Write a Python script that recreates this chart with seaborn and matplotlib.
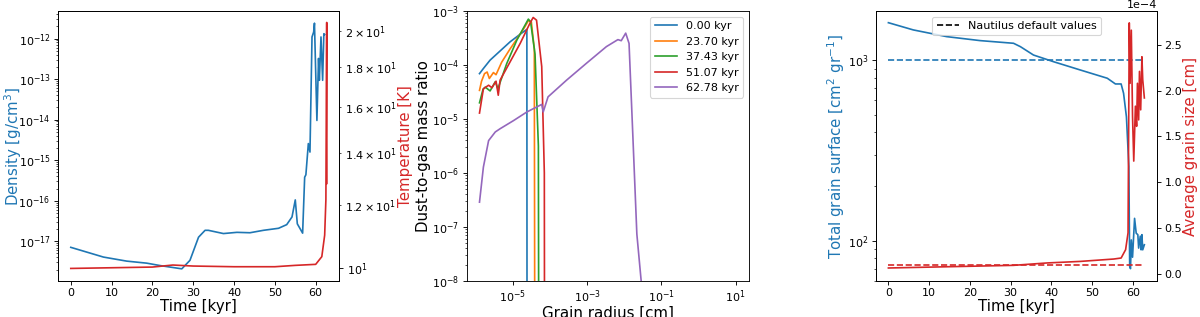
import numpy as np
import matplotlib
matplotlib.use("Agg")
import matplotlib.pyplot as plt
import seaborn as sns

plt.rcParams['font.family'] = ['DejaVu Sans']
plt.rcParams['xtick.major.pad'] = 3
plt.rcParams['ytick.major.pad'] = 3
plt.rcParams['ytick.minor.pad'] = 3
plt.rcParams['axes.labelpad'] = 1

BLUE = '#1f77b4'
RED = '#d62728'

# panel 1: density / temperature vs time
dens_time = [0.0, 8.0, 13.7, 18.6, 21.9, 27.2, 29.2, 31.3, 32.9, 33.7, 37.4, 40.7, 43.9,
             47.2, 50.9, 52.9, 54.2, 55.0, 55.5, 56.8, 57.3, 57.6, 58.2, 58.6, 59.1, 59.5,
             59.7, 60.3, 60.7, 60.9, 61.3, 61.7, 62.0, 62.2]
dens_log = [-17.15, -17.39, -17.49, -17.54, -17.60, -17.68, -17.47, -16.90, -16.73, -16.73,
            -16.81, -16.78, -16.79, -16.73, -16.68, -16.59, -16.40, -15.98, -16.57, -16.80,
            -15.42, -15.36, -14.59, -14.80, -11.96, -11.84, -11.62, -14.02, -12.49, -13.03,
            -11.96, -13.03, -11.88, -11.90]
temp_time = [0.0, 10.0, 20.0, 25.0, 30.0, 40.0, 50.0, 55.0, 60.0, 61.5, 62.2, 62.5, 62.7, 62.75]
temp_k = [9.98, 10.0, 10.02, 10.08, 10.05, 10.03, 10.03, 10.07, 10.1, 10.33, 11.0, 12.2, 20.5, 12.8]

# panel 2: dust-to-gas mass ratio vs grain radius (log10 values, None = empty bin)
snap_labels = ['0.00 kyr', '23.70 kyr', '37.43 kyr', '51.07 kyr', '62.78 kyr']
r_blue = [-5.895, -5.79, -5.61, -5.34, -5.07, -4.80, -4.62, -4.60, 1.0]
d_blue = [-4.16, -4.065, -3.91, -3.74, -3.57, -3.43, -3.34, None, None]
r_orange = [-5.895, -5.84, -5.76, -5.69, -5.63, -5.52, -5.45, -5.30, -5.07, -4.89, -4.68, -4.58,
            -4.50, -4.42, -4.36, 1.0]
d_orange = [-4.47, -4.30, -4.16, -4.13, -4.25, -4.14, -4.18, -3.95, -3.70, -3.52, -3.30, -3.18,
            -3.20, -3.70, None, None]
r_green = [-5.895, -5.80, -5.74, -5.61, -5.47, -5.40, -5.16, -4.89, -4.70, -4.58, -4.52, -4.40,
           -4.31, -4.25, 1.0]
d_green = [-4.70, -4.45, -4.41, -4.48, -4.31, -4.44, -3.97, -3.54, -3.30, -3.15, -3.20, -3.80,
           -5.5, None, None]
r_red = [-5.895, -5.79, -5.65, -5.56, -5.45, -5.39, -5.34, -5.07, -4.80, -4.54, -4.45, -4.36,
         -4.22, -4.15, -4.11, 1.0]
d_red = [-4.89, -4.44, -4.375, -4.42, -4.30, -4.56, -4.28, -3.94, -3.60, -3.23, -3.12, -3.17,
         -4.03, -6.0, None, None]
r_purple = [-5.895, -5.79, -5.65, -5.47, -5.34, -4.98, -4.62, -4.22, -4.18, -4.05, -3.55, -3.02,
            -2.48, -2.17, -2.08, -1.96, -1.87, -1.77, -1.66, -1.53, -1.50, 1.0]
d_purple = [-6.54, -5.89, -5.40, -5.24, -5.18, -5.03, -4.87, -4.73, -4.87, -4.59, -4.28, -3.97,
            -3.66, -3.53, -3.55, -3.41, -3.60, -5.27, -7.13, -8.1, None, None]

# panel 3: total grain surface / average grain size vs time
surf_time = [0.0, 6.1, 14.3, 22.5, 30.7, 32.4, 35.6, 40.5, 47.1, 53.7, 54.9, 55.7, 57.1, 57.7,
             58.4, 59.0, 59.2, 59.4, 59.6, 59.9, 60.4, 60.8, 61.2, 61.4, 61.8, 62.0, 62.2,
             62.4, 62.8]
surf_val = [1615, 1473, 1352, 1285, 1242, 1189, 1069, 982, 883, 795, 761, 739, 739, 656, 486,
            257, 72, 70, 101, 81, 133, 110, 108, 91, 106, 89, 108, 89, 95]
size_time = [0.0, 30.7, 38.9, 47.1, 55.3, 57.1, 58.2, 58.8, 59.1, 59.3, 59.6, 59.9, 60.2, 60.6,
             60.9, 61.1, 61.4, 61.6, 61.9, 62.2, 62.4, 62.8]
size_val = [0.062, 0.091, 0.117, 0.134, 0.16, 0.171, 0.262, 0.447, 2.74, 2.08, 2.66, 1.72, 1.23,
            1.83, 1.61, 2.08, 1.68, 2.21, 1.79, 2.37, 2.12, 1.92]
default_time = [0.0, 62.8]
default_surf = [1000, 1000]
default_size = [0.1e-4, 0.1e-4]

fig = plt.figure(figsize=(15, 3.9625), dpi=80)
H = 0.8517
ax1 = fig.add_axes([0.0481, 0.1136, 0.2347, H])
ax2 = fig.add_axes([0.3889, 0.1136, 0.235, H])
ax3 = fig.add_axes([0.7298, 0.1136, 0.2347, H])

LAB = 13.5
TICK = 10

# ---- panel 1
ax1.set_yscale('log')
sns.lineplot(x=dens_time, y=10 ** np.array(dens_log), ax=ax1, color=BLUE, lw=1.5,
             estimator=None, sort=False)
ax1.set_xlim(-3.2, 65.8)
ax1.set_ylim(10 ** -17.98, 10 ** -11.32)
ax1.set_xlabel('Time [kyr]', fontsize=LAB)
ax1.set_ylabel('Density [g/cm$^3$]', color=BLUE, fontsize=LAB)
ax1.yaxis.set_label_coords(-0.12, 0.5)
ax1.tick_params(labelsize=TICK)
ax1b = ax1.twinx()
ax1b.set_yscale('log')
sns.lineplot(x=temp_time, y=temp_k, ax=ax1b, color=RED, lw=1.5, estimator=None, sort=False)
ax1b.set_ylim(9.62, 21.2)
ax1b.set_ylabel('Temperature [K]', color=RED, fontsize=LAB)
ax1b.tick_params(which='both', labelsize=TICK)

# ---- panel 2
ax2.set_xscale('log')
ax2.set_yscale('log')
colors = ['C0', 'C1', 'C2', 'C3', 'C4']
for lab, rr, dd, c in zip(snap_labels, [r_blue, r_orange, r_green, r_red, r_purple],
                          [d_blue, d_orange, d_green, d_red, d_purple], colors):
    x = 10 ** np.array(rr)
    y = np.array([10 ** v if v is not None else 1e-30 for v in dd])
    ax2.plot(x, y, color=c, lw=1.5, label=lab)
ax2.set_xlim(10 ** -6.24, 10 ** 1.35)
ax2.set_ylim(1e-8, 1e-3)
ax2.set_xticks([1e-5, 1e-3, 1e-1, 1e1])
ax2.xaxis.set_minor_locator(matplotlib.ticker.NullLocator())
ax2.set_xlabel('Grain radius [cm]', fontsize=LAB)
ax2.set_ylabel('Dust-to-gas mass ratio', fontsize=LAB)
ax2.tick_params(labelsize=TICK)
ax2.legend(loc='upper right', fontsize=TICK)

# ---- panel 3
ax3.set_yscale('log')
sns.lineplot(x=surf_time, y=surf_val, ax=ax3, color=BLUE, lw=1.5, estimator=None, sort=False)
ax3.plot(default_time, default_surf, color=BLUE, ls='--', lw=1.5)
ax3.set_xlim(-3.1, 66.0)
ax3.set_ylim(59.8, 1875)
ax3.set_xlabel('Time [kyr]', fontsize=LAB)
ax3.set_ylabel('Total grain surface [cm$^2$ gr$^{-1}$]', color=BLUE, fontsize=LAB)
ax3.tick_params(labelsize=TICK)
ax3.plot([], [], color='black', ls='--', lw=1.5, label='Nautilus default values')
ax3.legend(loc='upper center', fontsize=TICK)
ax3b = ax3.twinx()
sns.lineplot(x=size_time, y=np.array(size_val) * 1e-4, ax=ax3b, color=RED, lw=1.5,
             estimator=None, sort=False)
ax3b.plot(default_time, default_size, color=RED, ls='--', lw=1.5)
ax3b.set_ylim(-0.08e-4, 2.87e-4)
ax3b.ticklabel_format(axis='y', style='sci', scilimits=(0, 0))
ax3b.set_ylabel('Average grain size [cm]', color=RED, fontsize=LAB)
ax3b.tick_params(labelsize=TICK)
ax3b.yaxis.get_offset_text().set_fontsize(TICK)

fig.savefig('out.png', dpi=80)
